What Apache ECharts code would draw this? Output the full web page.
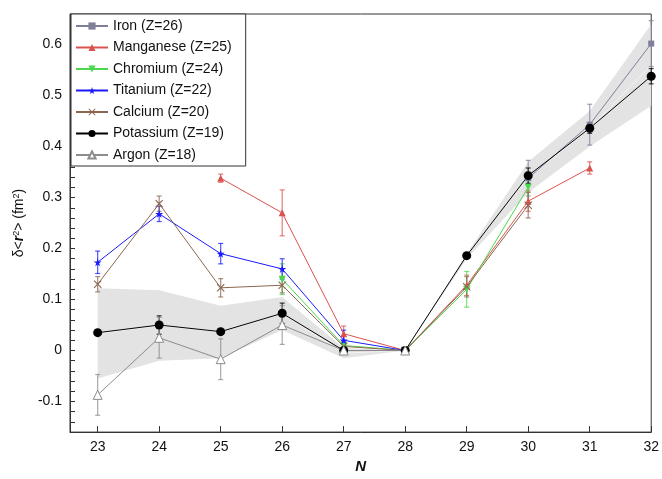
<!DOCTYPE html>
<html><head><meta charset="utf-8">
<script src="https://cdn.jsdelivr.net/npm/echarts@6/dist/echarts.min.js"></script>
<style>html,body{margin:0;background:#fff}#chart{width:662px;height:479px}</style>
</head><body><div id="chart"></div>
<script>
// N values and data [N, value, error]
var iron = [[30, 0.338, 0.035], [31, 0.443, 0.04], [32, 0.602, 0.045]];
var manganese = [[25, 0.338, 0.008], [26, 0.27, 0.045], [27, 0.033, 0.015], [28, 0, 0], [29, 0.128, 0.02], [30, 0.293, 0.02], [31, 0.358, 0.012]];
var chromium = [[26, 0.14, 0.03], [27, 0.01, 0.01], [28, 0, 0], [29, 0.12, 0.035], [30, 0.32, 0.03]];
var titanium = [[23, 0.173, 0.022], [24, 0.268, 0.015], [25, 0.19, 0.02], [26, 0.16, 0.02], [27, 0.02, 0.02], [28, 0, 0]];
var calcium = [[23, 0.13, 0.015], [24, 0.288, 0.015], [25, 0.123, 0.018], [26, 0.128, 0.015], [27, 0.008, 0.008], [28, 0, 0], [29, 0.125, 0.02], [30, 0.285, 0.025]];
var potassium = [[23, 0.035, 0], [24, 0.05, 0.018], [25, 0.037, 0], [26, 0.073, 0.02], [27, 0, 0], [28, 0, 0], [29, 0.186, 0], [30, 0.343, 0.015], [31, 0.436, 0.01], [32, 0.538, 0.015]];
var argon = [[23, -0.087, 0.04], [24, 0.025, 0.04], [25, -0.017, 0.04], [26, 0.05, 0.038], [27, 0, 0], [28, 0, 0]];
var bandN = [23, 24, 25, 26, 27, 28, 29, 30, 31, 32];
var bandLow = [-0.055, -0.02, -0.015, 0.04, -0.015, 0, 0.18, 0.31, 0.40, 0.48];
var bandHigh = [0.122, 0.118, 0.088, 0.105, 0.005, 0, 0.19, 0.37, 0.47, 0.64];
var xTicks = [23, 24, 25, 26, 27, 28, 29, 30, 31, 32];

var star = 'path://M50,0 L61,35 L98,35 L68,57 L79,91 L50,70 L21,91 L32,57 L2,35 L39,35 Z';
var cross = 'path://M10,0 L50,40 L90,0 L100,10 L60,50 L100,90 L90,100 L50,60 L10,100 L0,90 L40,50 L0,10 Z';

var defs = [
  ['Iron (Z=26)', iron, '#7f7f9a', 'rect', 6, '#7f7f9a'],
  ['Manganese (Z=25)', manganese, '#d9534f', 'triangle', 7, '#d9534f'],
  ['Chromium (Z=24)', chromium, '#4cd84c', 'triangle', 7, '#4cd84c', 180],
  ['Titanium (Z=22)', titanium, '#1a1aff', star, 8, '#1a1aff'],
  ['Calcium (Z=20)', calcium, '#8b6650', cross, 8, '#8b6650'],
  ['Potassium (Z=19)', potassium, '#000000', 'circle', 9, '#000000'],
  ['Argon (Z=18)', argon, '#8c8c8c', 'triangle', 9, '#ffffff']
];

var series = [{
  type: 'custom', silent: true, z: 1,
  data: bandN.map(function (n, i) { return [n, bandLow[i], bandHigh[i]]; }),
  renderItem: function (params, api) {
    if (params.dataIndex !== 0) return;
    var up = [], dn = [];
    bandN.forEach(function (n, i) {
      up.push(api.coord([n, bandHigh[i]]));
      dn.unshift(api.coord([n, bandLow[i]]));
    });
    var mid = bandN.map(function (n, i) { return api.coord([n, (bandHigh[i] + bandLow[i]) / 2]); });
    return { type: 'group', children: [
      { type: 'polygon', shape: { points: up.concat(dn) }, style: { fill: '#e3e3e3' } },
      { type: 'polyline', shape: { points: mid }, style: { stroke: '#f4f4f4', lineWidth: 1, fill: null } }
    ] };
  }
}];

defs.forEach(function (d) {
  series.push({
    name: d[0], type: 'line', data: d[1].map(function (p) { return [p[0], p[1]]; }),
    symbol: d[3], symbolSize: d[4], symbolRotate: d[6] || 0,
    lineStyle: { color: d[2], width: 1 },
    itemStyle: { color: d[5], borderColor: d[2], borderWidth: d[5] === '#ffffff' ? 1 : 0 },
    z: 3
  });
  series.push({
    type: 'custom', silent: true, z: 2,
    data: d[1].filter(function (p) { return p[2] > 0; }),
    renderItem: function (params, api) {
      var x = api.value(0), y = api.value(1), e = api.value(2);
      var hi = api.coord([x, y + e]), lo = api.coord([x, y - e]);
      var st = { stroke: d[2], lineWidth: 1.2, opacity: 0.75 };
      return { type: 'group', children: [
        { type: 'line', shape: { x1: hi[0], y1: hi[1], x2: lo[0], y2: lo[1] }, style: st },
        { type: 'line', shape: { x1: hi[0] - 2.5, y1: hi[1], x2: hi[0] + 2.5, y2: hi[1] }, style: st },
        { type: 'line', shape: { x1: lo[0] - 2.5, y1: lo[1], x2: lo[0] + 2.5, y2: lo[1] }, style: st }
      ] };
    }
  });
});

var chart = echarts.init(document.getElementById('chart'));
chart.setOption({
  animation: false,
  textStyle: { fontFamily: 'Arial, Liberation Sans' },
  grid: { left: 70, right: 1, top: 14, bottom: 39, show: true, borderColor: '#333', borderWidth: 1 },
  legend: {
    data: defs.map(function (d) { return d[0]; }),
    orient: 'vertical', left: 71, top: 14, itemGap: 7.5, itemWidth: 32, itemHeight: 9,
    backgroundColor: '#fff', borderColor: '#333', borderWidth: 1, padding: [5, 14, 4, 4],
    textStyle: { fontSize: 14, color: '#111' }
  },
  xAxis: {
    type: 'value', min: 22.55, max: 32, name: 'N', nameLocation: 'middle', nameGap: 22,
    nameTextStyle: { fontSize: 15, fontWeight: 'bold', fontStyle: 'italic', color: '#111' },
    axisLine: { onZero: false, lineStyle: { color: '#333' } },
    splitLine: { show: false },
    axisTick: { customValues: xTicks, inside: true, length: 6, lineStyle: { color: '#333' } },
    axisLabel: { customValues: xTicks, fontSize: 14, color: '#111' }
  },
  yAxis: {
    type: 'value', min: -0.16, max: 0.66, interval: 0.02,
    name: '{d|δ}<{r|r}{s|2}> (fm{s|2})', nameLocation: 'middle', nameGap: 44, nameRotate: 90,
    nameTextStyle: { fontSize: 14, color: '#111', rich: {
      d: { fontSize: 14, color: '#111' }, r: { fontSize: 14, fontWeight: 'bold', fontStyle: 'italic', color: '#111' },
      s: { fontSize: 9, verticalAlign: 'top', color: '#111' } } },
    axisLine: { show: true, lineStyle: { color: '#333' } },
    splitLine: { show: false },
    axisTick: { inside: true, length: 5, lineStyle: { color: '#333' } },
    axisLabel: {
      fontSize: 14, color: '#111',
      formatter: function (v) {
        var r = Math.round(v * 10) / 10;
        if (Math.abs(v - r) > 1e-6) return '';
        return r === 0 ? '0' : r.toFixed(1);
      }
    }
  },
  series: series
});
</script></body></html>
